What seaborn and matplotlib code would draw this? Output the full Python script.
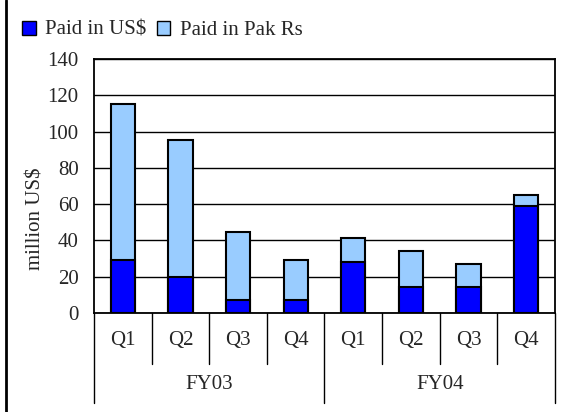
import pandas as pd
import matplotlib
matplotlib.use("Agg")
import matplotlib.pyplot as plt
from matplotlib.lines import Line2D
from matplotlib.patches import Patch
import seaborn as sns

# values (million US$)
years = ["FY03", "FY03", "FY03", "FY03", "FY04", "FY04", "FY04", "FY04"]
quarters = ["Q1", "Q2", "Q3", "Q4", "Q1", "Q2", "Q3", "Q4"]
paid_usd = [29, 20, 7.3, 7.3, 28, 14.3, 14.3, 59]
paid_pak = [86, 75.5, 37.2, 21.7, 13.5, 20, 12.9, 6.3]
y_ticks = [0, 20, 40, 60, 80, 100, 120, 140]

dark = "#0000FF"
light = "#99CCFF"

df = pd.DataFrame({"year": years, "quarter": quarters,
                   "usd": paid_usd, "pak": paid_pak})
df["label"] = df["year"] + " " + df["quarter"]
df["total"] = df["usd"] + df["pak"]

sns.set_style("white")
plt.rcParams["font.family"] = ["Liberation Serif", "DejaVu Serif"]
fs = 15

fig = plt.figure(figsize=(5.71, 4.12), dpi=100)
ax = fig.add_axes([0.1646, 0.2403, 0.8074, 0.6165])

order = list(df["label"])
sns.barplot(data=df, x="label", y="total", order=order, color=light,
            edgecolor="black", linewidth=1.5, width=0.42, saturation=1, ax=ax)
sns.barplot(data=df, x="label", y="usd", order=order, color=dark,
            edgecolor="black", linewidth=1.5, width=0.42, saturation=1, ax=ax)

ax.set_ylim(0, 140)
ax.set_xlim(-0.5, len(order) - 0.5)
ax.set_yticks(y_ticks)
ax.tick_params(axis="y", length=0, pad=11, labelsize=fs)
ax.set_xticks([])
ax.set_xlabel("")
ax.set_ylabel("million US$", fontsize=fs)
ax.yaxis.set_label_coords(-0.106, 0.37)
ax.yaxis.grid(True, color="black", linewidth=1)
ax.set_axisbelow(True)
for sp in ax.spines.values():
    sp.set_visible(True)
    sp.set_color("black")
    sp.set_linewidth(1.3)

# category axis below the plot: quarter labels and separators
tr = ax.get_xaxis_transform()
for i, q in enumerate(quarters):
    ax.text(i, -0.11, q, transform=tr, ha="center", va="center", fontsize=fs)
for i in range(len(order) + 1):
    x = i - 0.5
    bottom = -0.355 if i % 4 == 0 else -0.20
    ax.add_line(Line2D([x, x], [0, bottom], transform=tr, color="black",
                       linewidth=1, clip_on=False))
for k, fy in enumerate(["FY03", "FY04"]):
    ax.text(k * 4 + 1.5, -0.28, fy, transform=tr, ha="center", va="center",
            fontsize=fs)

# legend
handles = [Patch(facecolor=dark, edgecolor="black", label="Paid in US$"),
           Patch(facecolor=light, edgecolor="black", label="Paid in Pak Rs")]
fig.legend(handles=handles, loc="upper left", bbox_to_anchor=(0.024, 0.97),
           ncol=2, frameon=False, fontsize=fs, handlelength=0.65,
           handleheight=0.65, handletextpad=0.45, columnspacing=0.5,
           borderaxespad=0)

# frame line on the left edge
fig.add_artist(Line2D([0.011, 0.011], [0, 1], transform=fig.transFigure,
                      color="black", linewidth=2))

fig.savefig("out.png", dpi=100)
